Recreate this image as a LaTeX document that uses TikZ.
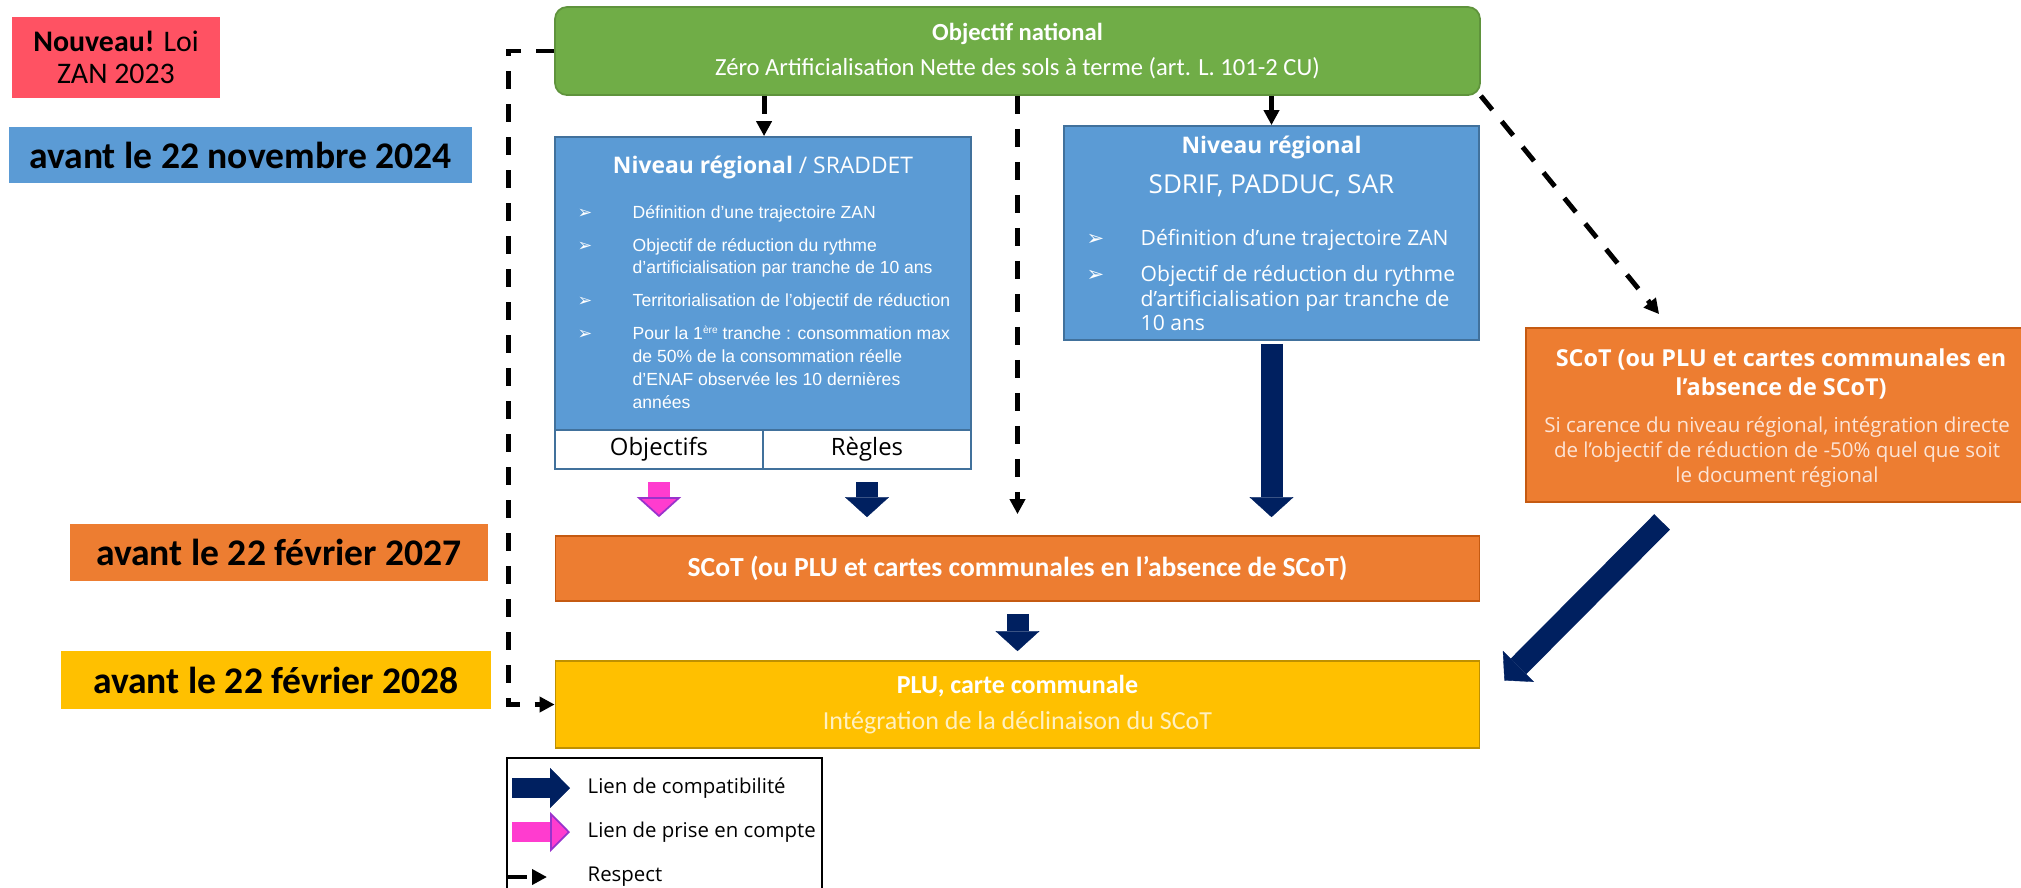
\documentclass[tikz,border=0pt]{standalone}
\usepackage{fontspec}
\setmainfont{Open Sans}
\newfontfamily\calib{Carlito}
\newfontfamily\arialf{Liberation Sans}
\newfontfamily\symbf{DejaVu Sans}
\usetikzlibrary{arrows.meta,calc}

\definecolor{rougezan}{HTML}{FF5263}
\definecolor{bleuzan}{HTML}{5B9BD5}
\definecolor{bleubord}{HTML}{41719C}
\definecolor{orangezan}{HTML}{ED7D31}
\definecolor{orangebord}{HTML}{C55A11}
\definecolor{jaunezan}{HTML}{FFC000}
\definecolor{jaunebord}{HTML}{BF9000}
\definecolor{vertzan}{HTML}{70AD47}
\definecolor{marine}{HTML}{002060}
\definecolor{rose}{HTML}{FF3CCF}
\definecolor{violetbord}{HTML}{9933CC}
\definecolor{jaunepale}{HTML}{FFF0C0}
\definecolor{orangepale}{HTML}{FCE4D6}

\newcommand{\puce}{{\symbf\char"27A2}}
\newcommand{\expo}[1]{\raisebox{0.7ex}{\fontsize{2.9}{3}\selectfont #1}}

\tikzset{
  bloc/.style={rectangle, inner sep=0pt, text=white, line width=0.5pt},
  datebox/.style={rectangle, inner sep=0pt, text=black, font=\calib\bfseries\fontsize{10.7}{12}\selectfont},
  cellule/.style={rectangle, inner sep=0pt, fill=white, draw=bleubord, line width=0.6pt,
    minimum width=20.8mm, minimum height=3.9mm, font=\fontsize{6.8}{8}\selectfont},
  txt/.style={inner sep=0pt, text=white},
  legtxt/.style={anchor=west, inner sep=0pt, font=\fontsize{5.8}{7}\selectfont},
  respect/.style={line width=1.4pt, dash pattern=on 1.8mm off 1.5mm, -{Triangle[length=1.5mm,width=1.5mm]}},
  compat/.style={marine, line width=2.2mm, -{Triangle[length=2mm,width=4.4mm,line width=0.1pt]}},
  prisecompte/.style={rose, line width=2.2mm,
    -{Triangle[length=2mm,width=4.4mm,line width=0.5pt,color=violetbord,fill=rose]}}
}

\begin{document}
\begin{tikzpicture}[x=0.1mm,y=-0.1mm]
\useasboundingbox (0,0) rectangle (2021,887);

% echeances
\node[bloc, fill=rougezan, text=black, minimum width=20.8mm, minimum height=8.1mm, align=center,
  font=\calib\fontsize{8.5}{9}\selectfont] (loi) at (116,57.5) {\textbf{Nouveau!} Loi\\ZAN 2023};
\node[datebox, fill=bleuzan, minimum width=46.3mm, minimum height=5.6mm] (d2024) at (240.5,155) {avant le 22 novembre 2024};
\node[datebox, fill=orangezan, minimum width=41.8mm, minimum height=5.7mm] (d2027) at (279,552.5) {avant le 22 février 2027};
\node[datebox, fill=jaunezan, minimum width=43mm, minimum height=5.8mm] (d2028) at (276,680) {avant le 22 février 2028};

% objectif national
\node[bloc, fill=vertzan, draw=vertzan!85!black, rounded corners=1.2mm, minimum width=92.5mm, minimum height=8.8mm,
  align=center, font=\calib\fontsize{7}{10}\selectfont] (nat) at (1017.5,51)
  {\textbf{Objectif national}\\Zéro Artificialisation Nette des sols à terme (art. L. 101-2 CU)};

% SRADDET
\node[bloc, fill=bleuzan, draw=bleubord, minimum width=41.6mm, minimum height=29.3mm] (srad) at (763,283.5) {};
\node[txt, font=\fontsize{6.5}{8}\selectfont] (srad-t) at (763,167) {\textbf{Niveau régional} / SRADDET};
\node[txt, anchor=base west, font=\arialf\fontsize{5}{6.5}\selectfont] (srad-l) at (577,218) {%
  \begin{tabular}[t]{@{}p{5.5mm}@{}l@{}}
  \puce & Définition d’une trajectoire ZAN\\[2.9pt]
  \puce & Objectif de réduction du rythme\\
        & d’artificialisation par tranche de 10 ans\\[2.9pt]
  \puce & Territorialisation de l’objectif de réduction\\[2.9pt]
  \puce & Pour la 1\expo{ère} tranche : consommation max\\
        & de 50\% de la consommation réelle\\
        & d’ENAF observée les 10 dernières\\
        & années
  \end{tabular}};
\node[cellule] (obj) at (659,449.5) {Objectifs};
\node[cellule] (regles) at (867,449.5) {Règles};

% SDRIF, PADDUC, SAR
\node[bloc, fill=bleuzan, draw=bleubord, minimum width=41.5mm, minimum height=21.4mm] (sdrif) at (1271.5,233) {};
\node[txt, font=\bfseries\fontsize{6.5}{8}\selectfont] (sdrif-t) at (1271.5,147) {Niveau régional};
\node[txt, font=\fontsize{7.4}{9}\selectfont] (sdrif-s) at (1271.5,186) {SDRIF, PADDUC, SAR};
\node[txt, anchor=base west, font=\fontsize{6}{7}\selectfont] (sdrif-l) at (1086,245) {%
  \begin{tabular}[t]{@{}p{5.4mm}@{}l@{}}
  \puce & Définition d’une trajectoire ZAN\\[3.4pt]
  \puce & Objectif de réduction du rythme\\
        & d’artificialisation par tranche de\\
        & 10 ans
  \end{tabular}};

% SCoT sans niveau regional
\node[bloc, fill=orangezan, draw=orangebord, minimum width=49.9mm, minimum height=17.4mm] (sco2) at (1775.5,415) {};
\node[txt, align=center, font=\bfseries\fontsize{6.65}{8.25}\selectfont] (sco2-t) at (1781,373.5)
  {SCoT (ou PLU et cartes communales en\\l’absence de SCoT)};
\node[txt, text=orangepale, align=center, font=\fontsize{5.85}{7.1}\selectfont] (sco2-b) at (1777,452)
  {Si carence du niveau régional, intégration directe\\de l’objectif de réduction de -50\% quel que soit\\le document régional};

% SCoT et PLU
\node[bloc, fill=orangezan, draw=orangebord, minimum width=92.4mm, minimum height=6.5mm,
  font=\calib\bfseries\fontsize{7.85}{9}\selectfont] (scot) at (1017.5,568.5)
  {SCoT (ou PLU et cartes communales en l’absence de SCoT)};
\node[bloc, fill=jaunezan, draw=jaunebord, minimum width=92.4mm, minimum height=8.7mm, align=center,
  font=\calib\fontsize{7.4}{8}\selectfont] (plu) at (1017.5,704.5)
  {\textbf{PLU, carte communale}\\[2.4pt]{\color{jaunepale}Intégration de la déclinaison du SCoT}};

% liens de respect
\draw[respect] (nat.west) -- ++(-46,0) |- (plu.west);
\draw[respect] (obj.east |- nat.south) -- (obj.east |- srad.north);
\draw[respect, shorten >=2.1mm] (nat.south) -- (scot.north);
\draw[respect] (sdrif.north |- nat.south) -- (sdrif.north);
\draw[respect] (nat.south east) -- ($(sco2.north west)+(134,-13)$);

% compatibilite et prise en compte
\draw[prisecompte, shorten <=1.2mm, shorten >=1.8mm] (obj.south) -- (obj.south |- scot.north);
\draw[compat, shorten <=1.2mm, shorten >=1.8mm] (regles.south) -- (regles.south |- scot.north);
\draw[compat, shorten <=0.3mm, shorten >=1.8mm] (sdrif.south) -- (sdrif.south |- scot.north);
\draw[compat, shorten <=1.2mm, shorten >=0.9mm] (scot.south) -- (plu.north);
\draw[compat] ($(sco2.south west)+(137,19)$) -- ($(plu.east)+(24,-24)$);

% legende
\node[draw=black, line width=0.6pt, minimum width=31.5mm, minimum height=14mm, anchor=north west, inner sep=0pt] (legende) at (506,757) {};
\node[legtxt] (leg-c) at (587,788) {Lien de compatibilité};
\node[legtxt] (leg-p) at (587,832) {Lien de prise en compte};
\node[legtxt] (leg-r) at (587,877) {Respect};
\draw[compat, line width=2mm, -{Triangle[length=2mm,width=4mm,line width=0.1pt]}] ($(leg-c.west)+(-75,0)$) -- ($(leg-c.west)+(-17,0)$);
\draw[prisecompte, line width=2mm, -{Triangle[length=2mm,width=4mm,line width=0.5pt,color=violetbord,fill=rose]}] ($(leg-p.west)+(-75,0)$) -- ($(leg-p.west)+(-17,0)$);
\draw[respect, dash pattern=on 1.9mm off 2mm] ($(leg-r.west)+(-79,0)$) -- ($(leg-r.west)+(-40,0)$);
\end{tikzpicture}
\end{document}
